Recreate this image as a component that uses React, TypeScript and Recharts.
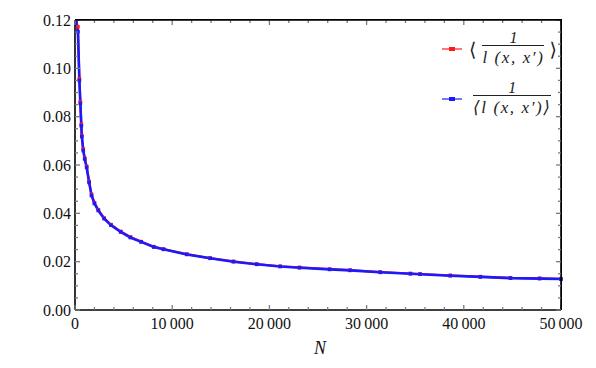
import React from 'react';
import { LineChart, Line, XAxis, YAxis, Legend } from 'recharts';

// system size N
const sizes = [
  100, 300, 450, 550, 650, 700, 850, 1000, 1200, 1450, 1700, 2000, 2400, 3000, 3700, 4700, 5700, 6800,
  8100, 9100, 11500, 13900, 16300, 18700, 21100, 23100, 26200, 28300, 31400, 34500, 35500, 38600,
  41700, 44800, 47800, 50000,
];

// < 1 / l(x,x') >  (red)
const meanOfInverse = [
  0.1195, 0.1172, 0.0958, 0.0862, 0.0768, 0.0722, 0.0666, 0.0628, 0.0594, 0.0532, 0.0478, 0.0444,
  0.0414, 0.038, 0.0353, 0.0325, 0.0302, 0.0283, 0.0262, 0.0252, 0.0231, 0.0215, 0.0201, 0.019,
  0.0181, 0.0176, 0.0169, 0.0165, 0.0157, 0.0151, 0.0149, 0.0143, 0.0138, 0.0133, 0.0131, 0.0129,
];

// 1 / < l(x,x') >  (blue)
const inverseOfMean = [
  0.119, 0.1152, 0.095, 0.0855, 0.0762, 0.0718, 0.066, 0.0625, 0.059, 0.0528, 0.0474, 0.0441,
  0.0412, 0.0378, 0.0351, 0.0323, 0.03, 0.0282, 0.0261, 0.0251, 0.023, 0.0214, 0.02, 0.0189, 0.018,
  0.0175, 0.0168, 0.0164, 0.0156, 0.015, 0.0148, 0.0142, 0.0137, 0.0132, 0.013, 0.0128,
];

const xTicks = [
  0, 2000, 4000, 6000, 8000, 10000, 12000, 14000, 16000, 18000, 20000, 22000, 24000, 26000, 28000,
  30000, 32000, 34000, 36000, 38000, 40000, 42000, 44000, 46000, 48000, 50000,
];
const yTicks = [
  0, 0.005, 0.01, 0.015, 0.02, 0.025, 0.03, 0.035, 0.04, 0.045, 0.05, 0.055, 0.06, 0.065, 0.07,
  0.075, 0.08, 0.085, 0.09, 0.095, 0.1, 0.105, 0.11, 0.115, 0.12,
];

const X_MAX = 50000;
const Y_MAX = 0.12;

const data = sizes.map((n, i) => ({ n, red: meanOfInverse[i], blue: inverseOfMean[i] }));

// chart layout
const W = 596;
const H = 368;
const MARGIN = { top: 20, right: 35, bottom: 28, left: 15 };
const Y_AXIS_W = 60;
const X_AXIS_H = 30;
const PLOT_W = W - MARGIN.left - MARGIN.right - Y_AXIS_W;
const PLOT_H = H - MARGIN.top - MARGIN.bottom - X_AXIS_H;

const FONT = '"Liberation Serif", "DejaVu Serif", serif';
const TICK_GREY = '#7a7a7a';
const FRAME = { stroke: '#000', strokeWidth: 1.6 };

const isMajorX = (v: number) => v % 10000 === 0;
const isMajorY = (v: number) => Math.round(v * 1000) % 20 === 0;

const fmtX = (v: number) => (v >= 10000 ? `${Math.floor(v / 1000)}\u2009${String(v % 1000).padStart(3, '0')}` : String(v));

// bottom ticks + matching marks on the top edge of the frame
const XTick = ({ x, y, payload }: any) => {
  const v = payload.value;
  const major = isMajorX(v);
  const len = major ? 5 : 3;
  const top = y - PLOT_H;
  return (
    <g>
      <line x1={x} x2={x} y1={y} y2={y - len} stroke={TICK_GREY} strokeWidth={1.3} />
      <line x1={x} x2={x} y1={top} y2={top + len} stroke={TICK_GREY} strokeWidth={1.3} />
      {v === X_MAX && <line x1={x} x2={x} y1={top} y2={y} {...FRAME} />}
      {major && (
        <text x={x} y={y + 18.5} textAnchor="middle" style={{ fontFamily: FONT, fontSize: 16 }} fill="#111">
          {fmtX(v)}
        </text>
      )}
    </g>
  );
};

// left ticks + matching marks on the right edge of the frame
const YTick = ({ x, y, payload }: any) => {
  const v = payload.value;
  const major = isMajorY(v);
  const len = major ? 5 : 3;
  const right = x + PLOT_W;
  return (
    <g>
      <line x1={x} x2={x + len} y1={y} y2={y} stroke={TICK_GREY} strokeWidth={1.3} />
      <line x1={right} x2={right - len} y1={y} y2={y} stroke={TICK_GREY} strokeWidth={1.3} />
      {v === Y_MAX && <line x1={x} x2={right} y1={y} y2={y} {...FRAME} />}
      {major && (
        <text x={x - 4} y={y + 5.5} textAnchor="end" style={{ fontFamily: FONT, fontSize: 16 }} fill="#111">
          {v.toFixed(2)}
        </text>
      )}
    </g>
  );
};

const squareDot = (color: string) => (props: any) => {
  const { cx, cy, index } = props;
  if (cx == null || cy == null) return <g key={index} />;
  return <rect key={index} x={cx - 1.8} y={cy - 1.8} width={3.6} height={3.6} fill={color} />;
};

const Frac = ({ num, den }: { num: React.ReactNode; den: React.ReactNode }) => (
  <span style={{ display: 'inline-flex', flexDirection: 'column', alignItems: 'center' }}>
    <span style={{ fontSize: 16, lineHeight: '13px', fontStyle: 'italic' }}>{num}</span>
    <span style={{ alignSelf: 'stretch', borderTop: '1.2px solid #222', margin: '1px 0 2px' }} />
    <span style={{ fontSize: 17, lineHeight: '19px', fontStyle: 'italic', letterSpacing: 1.6 }}>{den}</span>
  </span>
);

const bracket = (c: string) => (
  <span style={{ fontFamily: '"DejaVu Serif", serif', fontSize: 19, lineHeight: '20px' }}>{c}</span>
);

const lxx = <>l (x, x′)</>;

const legendOrder = ['red', 'blue'];
const legendLabels: Record<string, React.ReactNode> = {
  red: (
    <>
      {bracket('⟨')}
      <span style={{ width: 6 }} />
      <Frac num="1" den={lxx} />
      <span style={{ width: 5 }} />
      {bracket('⟩')}
    </>
  ),
  blue: (
    <>
      <span style={{ width: 4 }} />
      <Frac num="1" den={<>⟨{lxx}⟩</>} />
    </>
  ),
};

const renderLegend = (props: any) => {
  const entries = (props.payload || [])
    .filter((e: any) => legendOrder.includes(e.dataKey))
    .sort((a: any, b: any) => legendOrder.indexOf(a.dataKey) - legendOrder.indexOf(b.dataKey));
  return (
    <div style={{ fontFamily: FONT, color: '#222' }}>
      {entries.map((entry: any) => (
        <div key={entry.dataKey} style={{ display: 'flex', alignItems: 'center', height: 50 }}>
          <svg width={20} height={8} style={{ marginRight: 7 }}>
            <line x1={0} x2={20} y1={4} y2={4} stroke={entry.color} strokeWidth={1.2} />
            <rect x={7} y={2} width={6} height={4} fill={entry.color} />
          </svg>
          {legendLabels[entry.dataKey]}
        </div>
      ))}
    </div>
  );
};

export default function App() {
  return (
    <div style={{ position: 'relative', width: W, height: H, background: '#fff' }}>
      <style>{'body{margin:0}'}</style>
      <LineChart width={W} height={H} data={data} margin={MARGIN}>
        <XAxis
          dataKey="n"
          type="number"
          domain={[0, X_MAX]}
          ticks={xTicks}
          interval={0}
          height={X_AXIS_H}
          tickSize={0}
          tickMargin={0}
          tickLine={false}
          axisLine={FRAME}
          tick={<XTick />}
          label={(p: any) => {
            const vb = p.viewBox;
            return (
              <text
                x={vb.x + vb.width / 2 + 2}
                y={vb.y + 44}
                textAnchor="middle"
                style={{ fontFamily: FONT, fontStyle: 'italic', fontSize: 18 }}
                fill="#111"
              >
                N
              </text>
            );
          }}
        />
        <YAxis
          type="number"
          domain={[0, Y_MAX]}
          allowDataOverflow
          ticks={yTicks}
          interval={0}
          width={Y_AXIS_W}
          tickSize={0}
          tickMargin={0}
          tickLine={false}
          axisLine={FRAME}
          tick={<YTick />}
        />
        <Line
          dataKey="red"
          stroke="#ff1a1a"
          strokeWidth={2.2}
          dot={squareDot('#ff1a1a')}
          activeDot={false}
          isAnimationActive={false}
        />
        <Line
          dataKey="blue"
          stroke="#1a1aff"
          strokeWidth={2.6}
          dot={squareDot('#1a1aff')}
          activeDot={false}
          isAnimationActive={false}
        />
        <Legend
          layout="vertical"
          align="center"
          verticalAlign="middle"
          content={renderLegend}
          wrapperStyle={{ left: 442, top: 24, width: 140, height: 100 }}
        />
      </LineChart>
      {/* top/right frame edges as an overlay box */}
      <div
        style={{
          position: 'absolute',
          left: MARGIN.left + Y_AXIS_W,
          top: MARGIN.top - 0.8,
          width: PLOT_W + 0.8,
          height: PLOT_H + 0.8,
          borderTop: '1.6px solid #000',
          borderRight: '1.6px solid #000',
          boxSizing: 'border-box',
          pointerEvents: 'none',
        }}
      />
    </div>
  );
}
